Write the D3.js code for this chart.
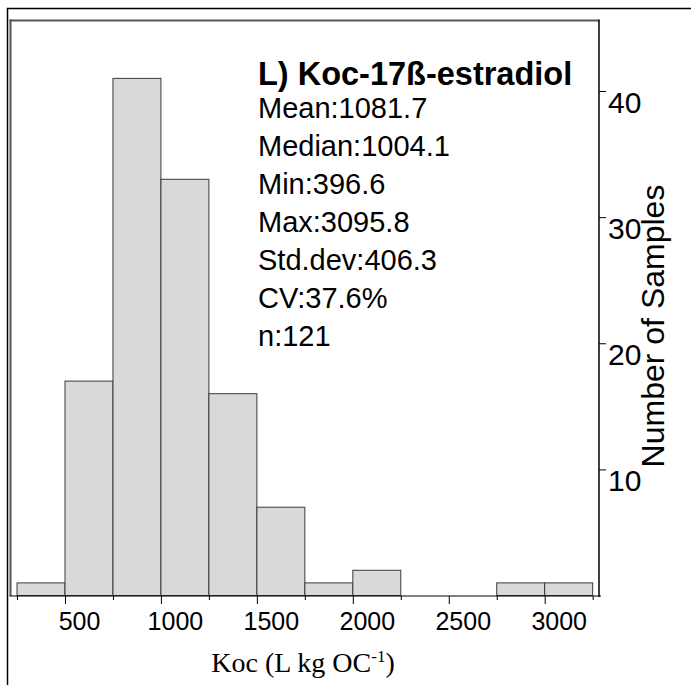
<!DOCTYPE html>
<html>
<head>
<meta charset="utf-8">
<script src="https://cdn.jsdelivr.net/npm/d3@7"></script>
<style>
    body { margin: 0; background: #fff; }
    svg text { font-family: "Liberation Sans", Arial, sans-serif; fill: #000; }
</style>
</head>
<body>
<div id="hist"></div>
<script>
// histogram data (bins of 250 L/kg OC)
const binStarts = [250, 500, 750, 1000, 1250, 1500, 1750, 2000, 2250, 2500, 2750, 3000];
const counts = [1, 17, 41, 33, 16, 7, 1, 2, 0, 0, 1, 1];
const binWidth = 250;

// tick labels
const xMajorTicks = [500, 1000, 1500, 2000, 2500, 3000];
const xMinorTicks = [250, 750, 1250, 1750, 2250, 2750, 3250];
const yTicks = [10, 20, 30, 40];

// summary text block
const title = 'L) Koc-17ß-estradiol';
const statLines = ['Mean:1081.7', 'Median:1004.1', 'Min:396.6', 'Max:3095.8',
    'Std.dev:406.3', 'CV:37.6%', 'n:121'];

const width = 691, height = 685;
// plot box: top, bottom, left, right
const box = { top: 20.5, bottom: 596, left: 10.5, right: 599 };

const svg = d3.select('#hist').append('svg')
    .attr('width', width)
    .attr('height', height);

// outer frame, runs off the right and bottom edges
svg.append('rect')
    .attr('x', 7.5).attr('y', 8.5)
    .attr('width', width).attr('height', height)
    .attr('fill', 'none').attr('stroke', '#000').attr('stroke-width', 1.5);

// scales
const xScale = d3.scaleLinear().domain([216, 3283]).range([box.left, box.right]);
const yScale = d3.scaleLinear().domain([0, 40]).range([595.5, 91]);

// bars
const data = binStarts.map((s, i) => ({ start: s, count: counts[i] }))
    .filter(d => d.count > 0);

svg.append('g').selectAll('rect')
    .data(data)
    .join('rect')
    .attr('x', d => xScale(d.start))
    .attr('width', d => xScale(d.start + binWidth) - xScale(d.start))
    .attr('y', d => yScale(d.count))
    .attr('height', d => yScale(0) - yScale(d.count))
    .attr('fill', '#d9d9d9')
    .attr('stroke', '#3a3a3a')
    .attr('stroke-width', 1);

// plot box: gray left/top, black right
svg.append('line')
    .attr('x1', box.left).attr('x2', box.left)
    .attr('y1', box.top - 1).attr('y2', box.bottom)
    .attr('stroke', '#555').attr('stroke-width', 2);
svg.append('line')
    .attr('x1', box.left - 1).attr('x2', box.right)
    .attr('y1', box.top).attr('y2', box.top)
    .attr('stroke', '#555').attr('stroke-width', 2);

// x axis (major ticks with labels, minor ticks without)
const xAxisMinor = svg.append('g')
    .attr('transform', `translate(0,${box.bottom})`)
    .call(d3.axisBottom(xScale).tickValues(xMinorTicks).tickSize(4).tickFormat(''));
const xAxis = svg.append('g')
    .attr('transform', `translate(0,${box.bottom})`)
    .call(d3.axisBottom(xScale).tickValues(xMajorTicks).tickSize(8)
        .tickSizeOuter(0).tickFormat(d3.format('d')));
xAxis.select('.domain').attr('d', `M${box.left - 1},0H${box.right + 2}`);
xAxisMinor.select('.domain').remove();
svg.selectAll('.tick line').attr('stroke', '#000');
xAxis.selectAll('.tick text')
    .attr('y', 16).attr('dx', 14).attr('dy', '0.71em')
    .style('font-size', '25px')
    .style('font-family', '"Liberation Sans", Arial, sans-serif');

// y axis on the right
const yAxis = svg.append('g')
    .attr('transform', `translate(${box.right},0)`)
    .call(d3.axisRight(yScale).tickValues(yTicks).tickSize(7).tickSizeOuter(0));
yAxis.select('.domain').attr('d', `M0,${box.top - 1}V${box.bottom + 1}`)
    .attr('stroke-width', 1.5);
yAxis.selectAll('.tick text')
    .attr('x', 9).attr('dy', '0.72em')
    .style('font-size', '30px')
    .style('font-family', '"Liberation Sans", Arial, sans-serif');

// axis titles
const xLabel = svg.append('text')
    .attr('x', 303).attr('y', 672)
    .style('text-anchor', 'middle')
    .style('font-family', '"Liberation Serif", "Times New Roman", serif')
    .style('font-size', '28px');
xLabel.append('tspan').text('Koc (L kg OC');
xLabel.append('tspan').attr('dy', -10).style('font-size', '17px').text('-1');
xLabel.append('tspan').attr('dy', 10).text(')');

svg.append('text')
    .attr('transform', 'translate(664,326) rotate(-90)')
    .style('text-anchor', 'middle')
    .style('font-size', '32px')
    .text('Number of Samples');

// stats block
const stats = svg.append('g').attr('transform', 'translate(258,0)');
stats.append('text')
    .attr('y', 85)
    .style('font-weight', 'bold')
    .style('font-size', '32.5px')
    .text(title);
stats.selectAll('text.stat')
    .data(statLines)
    .join('text')
    .classed('stat', true)
    .attr('y', (d, i) => 118 + i * 38)
    .style('font-size', '29px')
    .text(d => d);
</script>
</body>
</html>
